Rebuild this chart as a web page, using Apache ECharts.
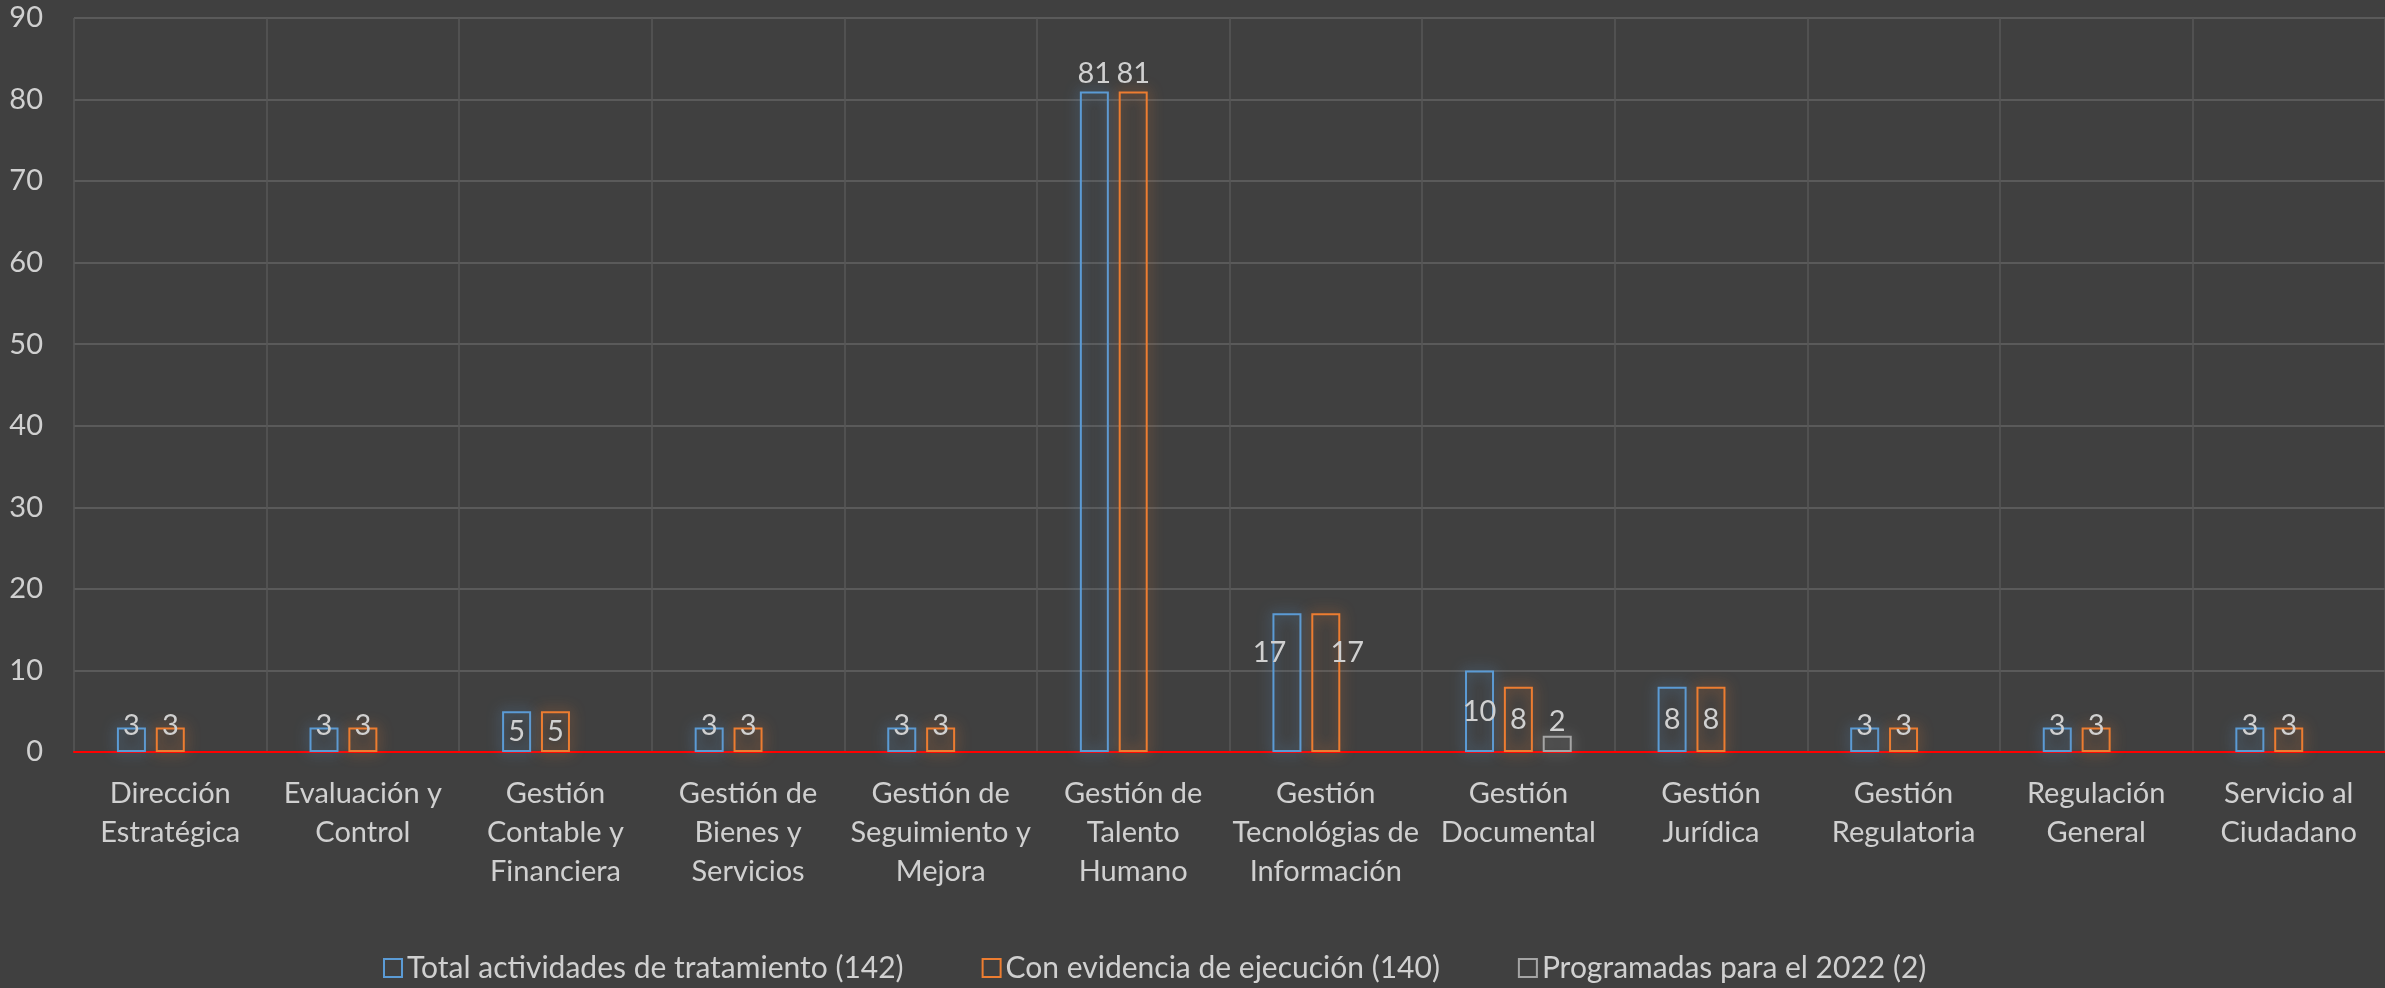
<!DOCTYPE html>
<html>
<head>
<meta charset="utf-8">
<script src="https://cdn.jsdelivr.net/npm/echarts@6/dist/echarts.min.js"></script>
<style>
html,body{margin:0;padding:0;background:#404040;}
#chart{width:2385px;height:988px;}
</style>
</head>
<body>
<div id="chart"></div>
<script>
const categories = [
  "Dirección\nEstratégica",
  "Evaluación y\nControl",
  "Gestión\nContable y\nFinanciera",
  "Gestión de\nBienes y\nServicios",
  "Gestión de\nSeguimiento y\nMejora",
  "Gestión de\nTalento\nHumano",
  "Gestión\nTecnológias de\nInformación",
  "Gestión\nDocumental",
  "Gestión\nJurídica",
  "Gestión\nRegulatoria",
  "Regulación\nGeneral",
  "Servicio al\nCiudadano"
];
const seriesNames = [
  "Total actividades de tratamiento (142)",
  "Con evidencia de ejecución (140)",
  "Programadas para el 2022 (2)"
];
const totalValues      = [3, 3, 5, 3, 3, 81, 17, 10, 8, 3, 3, 3];
const evidenciaValues  = [3, 3, 5, 3, 3, 81, 17, 8, 8, 3, 3, 3];
const programadasValues = [null, null, null, null, null, null, null, 2, null, null, null, null];
const yTicks = { min: 0, max: 90, interval: 10 };

const colors = ['#5B9BD5', '#ED7D31', '#A5A5A5'];
const glow = ['rgba(91,155,213,0.85)', 'rgba(237,125,49,0.85)', 'rgba(165,165,165,0.85)'];
const textColor = '#D0D0D0';
const fontFamily = 'Lato, "Noto Sans", sans-serif';

function labelFor(si, i, v) {
  if (v == null) return {};
  if (v >= 50) return { position: 'top', distance: 3 };
  if (v === 17) {
    return si === 0
      ? { position: ['-10%', '28%'], align: 'center', verticalAlign: 'middle' }
      : { position: ['124%', '28%'], align: 'center', verticalAlign: 'middle' };
  }
  if (si === 2) return { position: 'top', distance: 0 };
  if (v <= 3) return { position: 'top', distance: -13 };
  return { position: 'inside' };
}

function buildSeries(si, values) {
  return {
    name: seriesNames[si],
    type: 'bar',
    barWidth: 29,
    barGap: '34%',
    data: values.map((v, i) => ({ value: v, label: labelFor(si, i, v) })),
    itemStyle: {
      color: 'rgba(64,64,64,0)',
      borderColor: colors[si],
      borderWidth: 2,
      shadowBlur: 14,
      shadowColor: glow[si]
    },
    label: {
      show: true,
      color: textColor,
      fontFamily: fontFamily,
      fontSize: 29
    },
    emphasis: { disabled: true }
  };
}

const chart = echarts.init(document.getElementById('chart'), null, { renderer: 'canvas' });
chart.setOption({
  backgroundColor: '#404040',
  animation: false,
  textStyle: { fontFamily: fontFamily },
  grid: { left: 74, right: 0, top: 18, bottom: 236, containLabel: false },
  legend: {
    left: 378,
    top: 948,
    itemWidth: 18,
    itemHeight: 18,
    itemGap: 78,
    icon: 'rect',
    textStyle: { color: textColor, fontSize: 30, fontFamily: fontFamily },
    data: seriesNames.map((n, i) => ({
      name: n,
      itemStyle: { color: 'rgba(0,0,0,0)', borderColor: colors[i], borderWidth: 2, shadowBlur: 0 }
    }))
  },
  xAxis: {
    type: 'category',
    data: categories,
    boundaryGap: true,
    axisLine: { show: true, lineStyle: { color: '#FF0000', width: 2 } },
    axisTick: { show: false },
    splitLine: { show: true, lineStyle: { color: '#575757', width: 1.5 } },
    axisLabel: {
      color: textColor,
      fontSize: 29,
      lineHeight: 39,
      margin: 22,
      fontFamily: fontFamily,
      interval: 0
    }
  },
  yAxis: {
    type: 'value',
    min: yTicks.min,
    max: yTicks.max,
    interval: yTicks.interval,
    axisLine: { show: false },
    axisTick: { show: false },
    splitLine: { show: true, lineStyle: { color: '#5A5A5A', width: 2 } },
    axisLabel: { color: textColor, fontSize: 29, margin: 31, fontFamily: fontFamily }
  },
  series: [
    buildSeries(0, totalValues),
    buildSeries(1, evidenciaValues),
    buildSeries(2, programadasValues)
  ]
});
</script>
</body>
</html>
